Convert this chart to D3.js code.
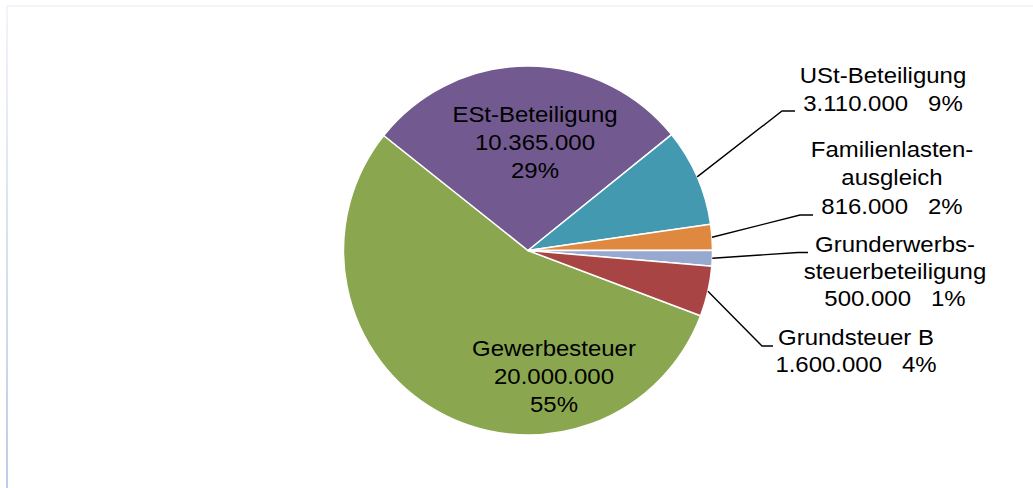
<!DOCTYPE html>
<html lang="de">
<head>
<meta charset="UTF-8">
<title>Steuereinnahmen</title>
<script src="https://d3js.org/d3.v7.min.js"></script>
<style>
    body { margin: 0; background: #fff; }
    svg { display: block; }
    .lbl { font-family: "Liberation Sans", Arial, sans-serif; font-size: 22px; fill: #000; }
</style>
</head>
<body>
<svg width="1033" height="488"></svg>
<script>
    // data
    var categories = ["Gewerbesteuer", "ESt-Beteiligung", "USt-Beteiligung",
        "Familienlasten-\nausgleich", "Grunderwerbs-\nsteuerbeteiligung", "Grundsteuer B"];
    var values = [20000000, 10365000, 3110000, 816000, 500000, 1600000];
    var percentLabels = ["55%", "29%", "9%", "2%", "1%", "4%"];
    var colors = ["#8aa74f", "#72598f", "#4299b0", "#df883f", "#97a9cf", "#a84443"];

    // label placement: centre x, first baseline, line step, inside or leader line
    var labelPos = [
        {x: 554, y: 356, step: 28, inside: true},
        {x: 535, y: 122, step: 28, inside: true},
        {x: 883, y: 83, step: 28, elbow: [782, 111], end: [795, 111]},
        {x: 892, y: 157, step: 28.5, elbow: [800, 215], end: [813, 215]},
        {x: 895, y: 252, step: 27, elbow: [798, 252.5], end: [808, 252.5]},
        {x: 856, y: 345, step: 27, elbow: [762, 346], end: [773, 346]}
    ];

    var svg = d3.select("svg");
    var cx = 528, cy = 250.5, radius = 184.5;

    // faint frame
    var grad = svg.append("defs").append("linearGradient")
        .attr("id", "frame").attr("x1", 0).attr("y1", 0).attr("x2", 0).attr("y2", 1);
    grad.append("stop").attr("offset", "0%").attr("stop-color", "#f1f4f9");
    grad.append("stop").attr("offset", "100%").attr("stop-color", "#bccde8");
    svg.append("line").attr("x1", 6).attr("x2", 1033).attr("y1", 6).attr("y2", 6)
        .attr("stroke", "#f2f4f9").attr("stroke-width", 2);
    svg.append("rect").attr("x", 6).attr("y", 5).attr("width", 2).attr("height", 483)
        .attr("fill", "url(#frame)");

    var fmt = d3.formatLocale({decimal: ",", thousands: ".", grouping: [3], currency: ["", " €"]}).format(",d");

    var start = 110.7 * Math.PI / 180;
    var pie = d3.pie().sort(null).value(function (d) { return d; })
        .startAngle(start).endAngle(start + 2 * Math.PI);
    var arcs = pie(values);

    var arc = d3.arc().innerRadius(0).outerRadius(radius);

    var g = svg.append("g").attr("transform", "translate(" + cx + "," + cy + ")");

    g.selectAll("path.slice")
        .data(arcs)
        .enter().append("path")
        .attr("class", "slice")
        .attr("d", arc)
        .attr("fill", function (d, i) { return colors[i]; })
        .attr("stroke", "#fff")
        .attr("stroke-width", 1.5)
        .attr("stroke-linejoin", "round");

    // leader lines from the rim at the slice's mid angle
    arcs.forEach(function (d, i) {
        var p = labelPos[i];
        if (p.inside) return;
        var mid = (d.startAngle + d.endAngle) / 2;
        var sx = cx + radius * Math.sin(mid), sy = cy - radius * Math.cos(mid);
        svg.append("polyline")
            .attr("points", [[sx, sy], p.elbow, p.end].map(function (q) { return q.join(","); }).join(" "))
            .attr("fill", "none")
            .attr("stroke", "#000")
            .attr("stroke-width", 1.4);
    });

    // labels
    arcs.forEach(function (d, i) {
        var p = labelPos[i];
        var lines = categories[i].split("\n");
        if (p.inside) {
            lines.push(fmt(values[i]));
            lines.push(percentLabels[i]);
        } else {
            lines.push(fmt(values[i]) + "\u00a0\u00a0\u00a0" + percentLabels[i]);
        }
        var lg = svg.append("g")
            .attr("transform", "translate(" + p.x + "," + p.y + ") scale(1.09,1)");
        lines.forEach(function (t, k) {
            lg.append("text")
                .attr("class", "lbl")
                .attr("x", 0)
                .attr("y", k * p.step)
                .attr("text-anchor", "middle")
                .text(t);
        });
    });
</script>
</body>
</html>
